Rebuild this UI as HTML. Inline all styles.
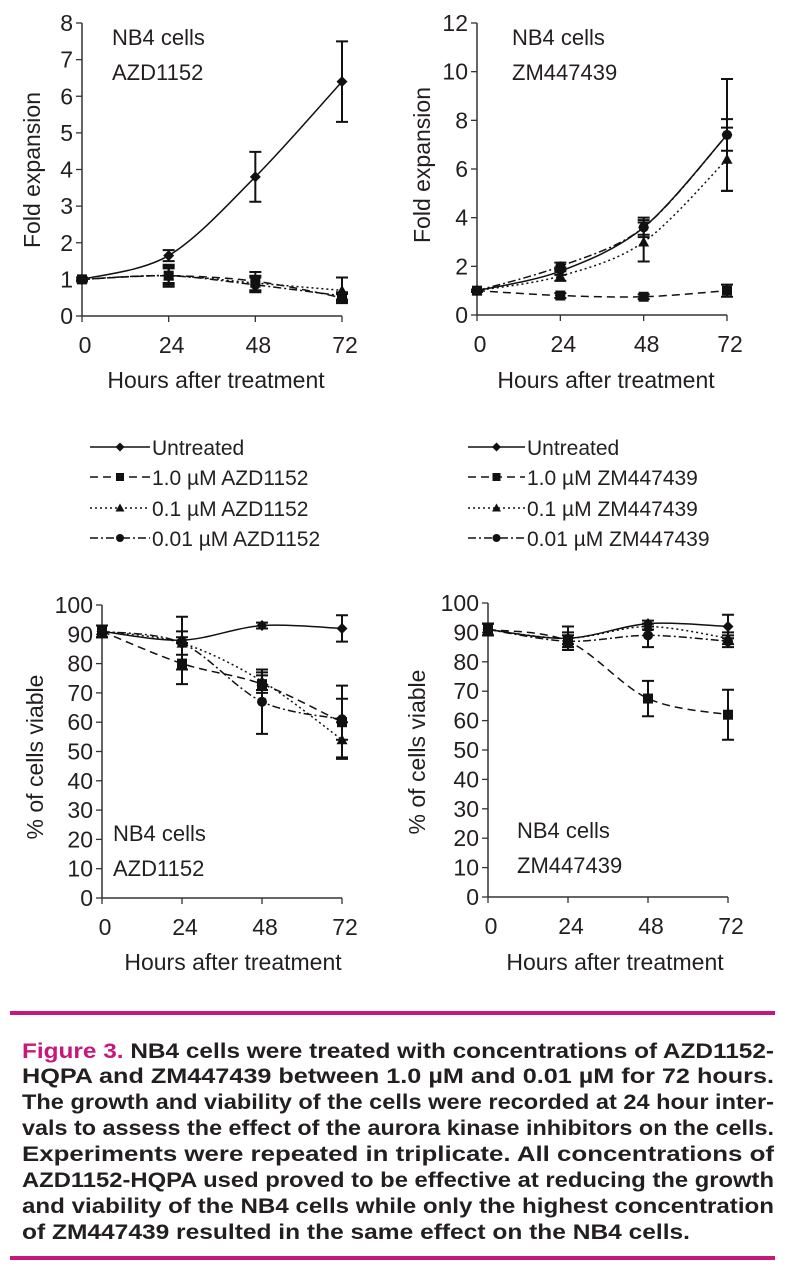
<!DOCTYPE html>
<html><head><meta charset="utf-8"><style>
html,body{margin:0;padding:0;background:#fff;}
svg{display:block;}
text{font-family:"Liberation Sans Narrow","Liberation Sans",sans-serif;fill:#231f20;}
</style></head><body>
<svg id="fig" width="789" height="1280" viewBox="0 0 789 1280" xmlns="http://www.w3.org/2000/svg">
<g id="charts"></g>
<g id="legends"></g>
<g id="caption">
<rect x="10" y="1011" width="765" height="4" fill="#c8177a"/>
<rect x="10" y="1256" width="765" height="4" fill="#c8177a"/>
<g style="font-size:21px;font-weight:bold" transform="translate(0,0)">
<text x="22" y="1058" textLength="752" lengthAdjust="spacingAndGlyphs"><tspan fill="#c8177a" style="fill:#c8177a">Figure 3.</tspan> NB4 cells were treated with concentrations of AZD1152-</text>
<text x="22" y="1083" textLength="752" lengthAdjust="spacingAndGlyphs">HQPA and ZM447439 between 1.0 µM and 0.01 µM for 72 hours.</text>
<text x="22" y="1109" textLength="752" lengthAdjust="spacingAndGlyphs">The growth and viability of the cells were recorded at 24 hour inter-</text>
<text x="22" y="1135" textLength="752" lengthAdjust="spacingAndGlyphs">vals to assess the effect of the aurora kinase inhibitors on the cells.</text>
<text x="22" y="1161" textLength="752" lengthAdjust="spacingAndGlyphs">Experiments were repeated in triplicate. All concentrations of</text>
<text x="22" y="1187" textLength="752" lengthAdjust="spacingAndGlyphs">AZD1152-HQPA used proved to be effective at reducing the growth</text>
<text x="22" y="1213" textLength="752" lengthAdjust="spacingAndGlyphs">and viability of the NB4 cells while only the highest concentration</text>
<text x="22" y="1239" textLength="668" lengthAdjust="spacingAndGlyphs">of ZM447439 resulted in the same effect on the NB4 cells.</text>
</g>
</g>
</svg>
<script>
// ---- data ----
const hours = [0, 24, 48, 72];
const seriesNames = ["untreated", "1.0", "0.1", "0.01"];
// Chart A: fold expansion AZD1152
const foldAzdUntreated = [1, 1.65, 3.8, 6.4];
const foldAzdUntreatedErr = [0.05, 0.15, 0.68, 1.1];
const foldAzd10 = [1, 1.1, 0.95, 0.5];
const foldAzd10Err = [0.05, 0.3, 0.25, 0.1];
const foldAzd01 = [1, 1.1, 0.9, 0.7];
const foldAzd01Err = [0.05, 0.25, 0.2, 0.35];
const foldAzd001 = [1, 1.1, 0.85, 0.55];
const foldAzd001Err = [0.05, 0.2, 0.2, 0.1];
const foldAzdTicks = [0, 1, 2, 3, 4, 5, 6, 7, 8];
// Chart B: fold expansion ZM447439
const foldZmUntreated = [1, 1.8, 3.6, 7.4];
const foldZmUntreatedErr = [0.05, 0.15, 0.4, 0.65];
const foldZm10 = [1, 0.8, 0.75, 1.0];
const foldZm10Err = [0.05, 0.1, 0.1, 0.25];
const foldZm01 = [1, 1.6, 3.0, 6.4];
const foldZm01Err = [0.05, 0.2, 0.8, 1.3];
const foldZm001 = [1, 2.0, 3.6, 7.4];
const foldZm001Err = [0.05, 0.15, 0.3, 2.3];
const foldZmTicks = [0, 2, 4, 6, 8, 10, 12];
// Chart C: viability AZD1152
const viaAzdUntreated = [91, 88, 93, 92];
const viaAzdUntreatedErr = [2, 1, 1, 4.5];
const viaAzd10 = [91, 80, 73, 60];
const viaAzd10Err = [2, 7, 3, 12.5];
const viaAzd01 = [91, 87, 74, 54];
const viaAzd01Err = [2, 9, 3, 6];
const viaAzd001 = [91, 87, 67, 61];
const viaAzd001Err = [2, 4, 11, 7];
// Chart D: viability ZM447439
const viaZmUntreated = [91, 88, 93, 92];
const viaZmUntreatedErr = [2, 4, 1, 4];
const viaZm10 = [91, 87, 67.5, 62];
const viaZm10Err = [2, 2, 6, 8.5];
const viaZm01 = [91, 88, 92, 88];
const viaZm01Err = [2, 2, 1, 2];
const viaZm001 = [91, 87, 89, 87];
const viaZm001Err = [2, 2, 4, 2];
const viaTicks = [0, 10, 20, 30, 40, 50, 60, 70, 80, 90, 100];
const xTickLabels = ["0", "24", "48", "72"];

const NS = "http://www.w3.org/2000/svg";
const dashes = {"untreated": "", "1.0": "8,5", "0.1": "2,3", "0.01": "8,3,2,3"};
const markers = {"untreated": "diamond", "1.0": "square", "0.1": "triangle", "0.01": "circle"};

function mk(tag, attrs, parent) {
  const e = document.createElementNS(NS, tag);
  for (const k in attrs) e.setAttribute(k, attrs[k]);
  parent.appendChild(e);
  return e;
}
function smoothPath(pts) {
  let d = "M" + pts[0][0] + "," + pts[0][1];
  for (let i = 0; i < pts.length - 1; i++) {
    const p0 = pts[Math.max(0, i - 1)], p1 = pts[i], p2 = pts[i + 1], p3 = pts[Math.min(pts.length - 1, i + 2)];
    const t = 0.16;
    const c1 = [p1[0] + (p2[0] - p0[0]) * t, p1[1] + (p2[1] - p0[1]) * t];
    const c2 = [p2[0] - (p3[0] - p1[0]) * t, p2[1] - (p3[1] - p1[1]) * t];
    d += " C" + c1[0] + "," + c1[1] + " " + c2[0] + "," + c2[1] + " " + p2[0] + "," + p2[1];
  }
  return d;
}
function marker(kind, x, y, g, s) {
  s = s || 5;
  let m;
  if (kind === "diamond") m = mk("polygon", {points: `${x},${y-s} ${x+s},${y} ${x},${y+s} ${x-s},${y}`, fill: "#111"}, g);
  else if (kind === "square") m = mk("rect", {x: x - s + 0.5, y: y - s + 0.5, width: 2*s - 1, height: 2*s - 1, fill: "#111"}, g);
  else if (kind === "triangle") m = mk("polygon", {points: `${x},${y-s} ${x+s},${y+s-1} ${x-s},${y+s-1}`, fill: "#111"}, g);
  else m = mk("circle", {cx: x, cy: y, r: s - 0.5, fill: "#111"}, g);
  return m;
}

function chart(cfg) {
  const root = document.getElementById("charts");
  const g = mk("g", {}, root);
  
  
  const xS = h => cfg.x0 + (h - hours[0]) / (hours[hours.length-1] - hours[0]) * (cfg.x1 - cfg.x0);
  const yS = v => cfg.y0 + (v - cfg.ymin) / (cfg.ymax - cfg.ymin) * (cfg.y1 - cfg.y0);
  // axes
  const ya = mk("line", {x1: cfg.x0, y1: yS(cfg.ymin), x2: cfg.x0, y2: yS(cfg.ymax), stroke: "#333", "stroke-width": 1.5}, g);
  
  
  const xa = mk("line", {x1: cfg.x0, y1: yS(cfg.ymin), x2: cfg.x1, y2: yS(cfg.ymin), stroke: "#333", "stroke-width": 1.5}, g);
  
  
  cfg.ticks.forEach(t => {
    mk("line", {x1: cfg.x0 - 6, y1: yS(t), x2: cfg.x0, y2: yS(t), stroke: "#333", "stroke-width": 1.3}, g);
    const tx = mk("text", {x: cfg.x0 - 9, y: yS(t) + 8, "text-anchor": "end", "font-size": 23}, g);
    tx.textContent = String(t);
    
    
  });
  hours.forEach((h, i) => {
    mk("line", {x1: xS(h), y1: yS(cfg.ymin), x2: xS(h), y2: yS(cfg.ymin) + 6, stroke: "#333", "stroke-width": 1.3}, g);
    const tx = mk("text", {x: xS(h) + 3, y: yS(cfg.ymin) + 37, "text-anchor": "middle", "font-size": 23}, g);
    tx.textContent = xTickLabels[i];
    
    
  });
  const xt = mk("text", {x: cfg.xtX, y: cfg.xtY, "text-anchor": "middle", "font-size": 23}, g);
  xt.textContent = "Hours after treatment";
  
  
  const yt = mk("text", {x: 0, y: 0, "text-anchor": "middle", "font-size": 23, transform: `translate(${cfg.ytX},${cfg.ytY}) rotate(-90)`}, g);
  yt.textContent = cfg.ytitle;
  
  
  cfg.annot.forEach((s, i) => {
    const a = mk("text", {x: cfg.anX, y: cfg.anY + i * 35, "font-size": 22}, g);
    a.textContent = s;
    
    
  });
  // series
  cfg.series.forEach((s, si) => {
    const sg = mk("g", {}, g);
    
    
    const pts = hours.map((h, i) => [xS(h), yS(s.v[i])]);
    const p = mk("path", {d: smoothPath(pts), fill: "none", stroke: "#111", "stroke-width": 1.5}, sg);
    if (dashes[seriesNames[si]]) p.setAttribute("stroke-dasharray", dashes[seriesNames[si]]);
    hours.forEach((h, i) => {
      const x = xS(h), a = yS(s.v[i] + s.e[i]), b = yS(s.v[i] - s.e[i]);
      const eb = mk("path", {d: `M${x},${a} L${x},${b} M${x-6},${a} L${x+6},${a} M${x-6},${b} L${x+6},${b}`, stroke: "#111", "stroke-width": 2, fill: "none"}, sg);
      
      
      const m = marker(markers[seriesNames[si]], x, yS(s.v[i]), sg, 5.5);
      
      
    });
  });
}

chart({name: "chart-fold-azd1152", x0: 82, x1: 342, y0: 316, y1: 23, ymin: 0, ymax: 8, ticks: foldAzdTicks,
  ytitle: "Fold expansion", ytX: 40, ytY: 170, xtX: 216, xtY: 388, annot: ["NB4 cells", "AZD1152"], anX: 112, anY: 45,
  series: [{v: foldAzdUntreated, e: foldAzdUntreatedErr}, {v: foldAzd10, e: foldAzd10Err}, {v: foldAzd01, e: foldAzd01Err}, {v: foldAzd001, e: foldAzd001Err}]});
chart({name: "chart-fold-zm447439", x0: 477, x1: 727, y0: 315, y1: 23, ymin: 0, ymax: 12, ticks: foldZmTicks,
  ytitle: "Fold expansion", ytX: 430, ytY: 165, xtX: 606, xtY: 388, annot: ["NB4 cells", "ZM447439"], anX: 512, anY: 45,
  series: [{v: foldZmUntreated, e: foldZmUntreatedErr}, {v: foldZm10, e: foldZm10Err}, {v: foldZm01, e: foldZm01Err}, {v: foldZm001, e: foldZm001Err}]});
chart({name: "chart-viability-azd1152", x0: 102, x1: 342, y0: 898, y1: 605, ymin: 0, ymax: 100, ticks: viaTicks,
  ytitle: "% of cells viable", ytX: 43, ytY: 757, xtX: 233, xtY: 970, annot: ["NB4 cells", "AZD1152"], anX: 113, anY: 841,
  series: [{v: viaAzdUntreated, e: viaAzdUntreatedErr}, {v: viaAzd10, e: viaAzd10Err}, {v: viaAzd01, e: viaAzd01Err}, {v: viaAzd001, e: viaAzd001Err}]});
chart({name: "chart-viability-zm447439", x0: 488, x1: 728, y0: 897, y1: 603, ymin: 0, ymax: 100, ticks: viaTicks,
  ytitle: "% of cells viable", ytX: 425, ytY: 752, xtX: 615, xtY: 970, annot: ["NB4 cells", "ZM447439"], anX: 517, anY: 838,
  series: [{v: viaZmUntreated, e: viaZmUntreatedErr}, {v: viaZm10, e: viaZm10Err}, {v: viaZm01, e: viaZm01Err}, {v: viaZm001, e: viaZm001Err}]});

// legends
const legendRows = [447, 477, 508, 538];
function legend(name, lx0, lx1, labels) {
  const lg = mk("g", {}, document.getElementById("legends"));
  
  
  seriesNames.forEach((s, i) => {
    const eg = mk("g", {}, lg);
    
    
    const y = legendRows[i];
    const l = mk("line", {x1: lx0, y1: y, x2: lx1, y2: y, stroke: "#111", "stroke-width": 1.5}, eg);
    if (dashes[s]) l.setAttribute("stroke-dasharray", dashes[s]);
    marker(markers[s], (lx0 + lx1) / 2, y, eg, 4.5);
    const t = mk("text", {x: lx1 + 2, y: y + 8, "font-size": 21}, eg);
    t.textContent = labels[i];
  });
}
legend("legend-azd1152", 90, 150, ["Untreated", "1.0 µM AZD1152", "0.1 µM AZD1152", "0.01 µM AZD1152"]);
legend("legend-zm447439", 468, 525, ["Untreated", "1.0 µM ZM447439", "0.1 µM ZM447439", "0.01 µM ZM447439"]);
</script>
</body></html>
